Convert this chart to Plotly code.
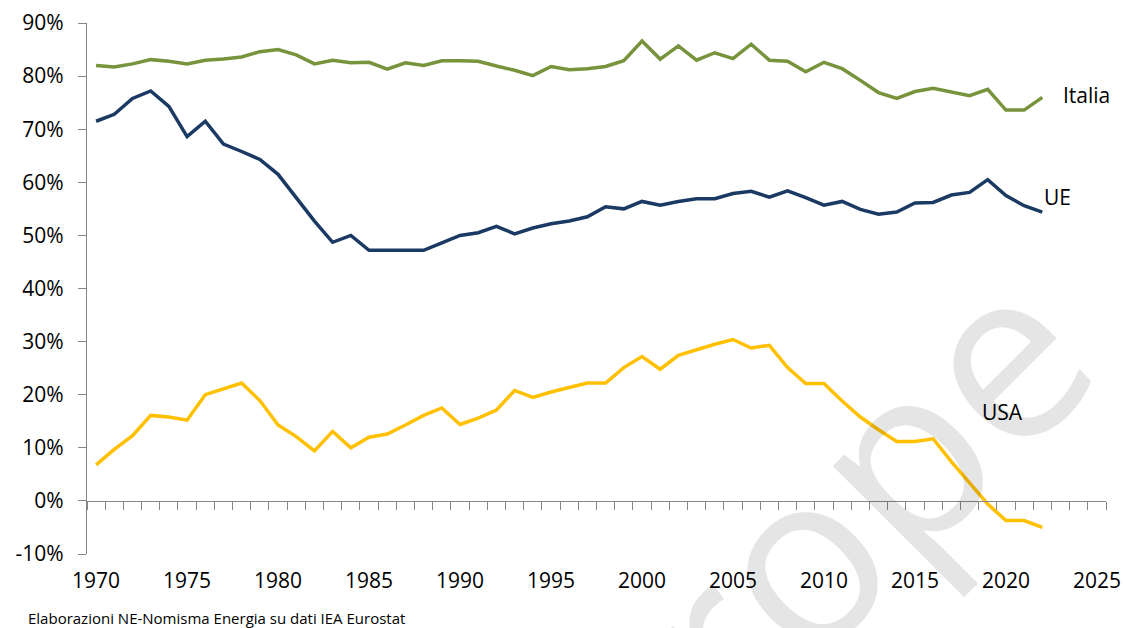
import plotly.graph_objects as go

years = list(range(1970, 2023))

italia = [82.0, 81.7, 82.3, 83.1, 82.8, 82.3, 83.0, 83.2, 83.6, 84.6,
          85.0, 84.0, 82.3, 83.0, 82.5, 82.6, 81.3, 82.5, 82.0, 82.9,
          82.9, 82.8, 81.9, 81.1, 80.1, 81.8, 81.2, 81.4, 81.8, 82.9,
          86.6, 83.2, 85.7, 83.0, 84.4, 83.3, 86.0, 83.0, 82.8, 80.8,
          82.6, 81.4, 79.2, 76.9, 75.8, 77.1, 77.7, 77.0, 76.3, 77.5,
          73.6, 73.6, 76.0]

ue = [71.5, 72.8, 75.8, 77.2, 74.3, 68.6, 71.5, 67.2, 65.8, 64.3,
      61.5, 57.1, 52.7, 48.7, 50.0, 47.2, 47.2, 47.2, 47.2, 48.6,
      50.0, 50.5, 51.7, 50.3, 51.4, 52.2, 52.7, 53.5, 55.4, 55.0,
      56.4, 55.7, 56.4, 56.9, 56.9, 57.9, 58.3, 57.2, 58.4, 57.1,
      55.7, 56.4, 54.9, 54.0, 54.4, 56.1, 56.2, 57.6, 58.1, 60.5,
      57.5, 55.6, 54.4]

usa = [6.8, 9.7, 12.3, 16.1, 15.8, 15.2, 20.0, 21.1, 22.2, 18.9,
       14.3, 12.1, 9.4, 13.1, 10.0, 12.0, 12.6, 14.3, 16.1, 17.5,
       14.4, 15.6, 17.1, 20.8, 19.5, 20.5, 21.3, 22.2, 22.2, 25.1,
       27.2, 24.8, 27.4, 28.5, 29.5, 30.4, 28.8, 29.3, 25.1, 22.1,
       22.1, 18.8, 15.8, 13.4, 11.2, 11.2, 11.7, 7.4, 3.3, -0.6,
       -3.7, -3.7, -5.0]

x_ticks = list(range(1970, 2026, 5))
y_ticks = list(range(-10, 91, 10))
y_labels = [f"{v}%" for v in y_ticks]

FONT = "Open Sans"
AXIS_GREY = "#868686"

fig = go.Figure()
fig.add_trace(go.Scatter(x=years, y=italia, mode="lines", name="Italia",
                         line=dict(color="#77933C", width=3.5)))
fig.add_trace(go.Scatter(x=years, y=ue, mode="lines", name="UE",
                         line=dict(color="#1B3A63", width=3.5)))
fig.add_trace(go.Scatter(x=years, y=usa, mode="lines", name="USA", xaxis="x2",
                         line=dict(color="#FFC000", width=3.5)))

xr = [1969.5, 2025.5]
fig.update_layout(
    width=1124, height=628,
    margin=dict(l=87, r=18, t=23, b=74),
    paper_bgcolor="white", plot_bgcolor="white",
    showlegend=False,
    font=dict(family=FONT, size=21, color="#000000"),
    xaxis=dict(range=xr, tickvals=x_ticks, ticktext=[str(v) for v in x_ticks],
               showline=False, showgrid=False, zeroline=False, ticks="",
               ticklabelstandoff=12, automargin=False,
               tickfont=dict(family=FONT, size=21, color="#000000")),
    xaxis2=dict(range=xr, overlaying="x", anchor="free", position=0.1, side="bottom",
                showline=True, linecolor=AXIS_GREY, linewidth=1.3,
                showgrid=False, zeroline=False, showticklabels=False,
                ticks="outside", tick0=1969.5, dtick=1, ticklen=8,
                tickcolor=AXIS_GREY, tickwidth=1.3, automargin=False),
    yaxis=dict(range=[-10, 90], tickvals=y_ticks, ticktext=y_labels,
               showline=True, linecolor=AXIS_GREY, linewidth=1.3,
               showgrid=False, zeroline=False,
               ticks="outside", ticklen=8, tickcolor=AXIS_GREY, tickwidth=1.3,
               ticklabelstandoff=10, automargin=False,
               tickfont=dict(family=FONT, size=21, color="#000000")),
)

# series labels
fig.add_annotation(x=2023.0, y=76.5, text="Italia", showarrow=False, xanchor="left",
                   yanchor="middle", font=dict(family=FONT, size=21, color="#000000"))
fig.add_annotation(x=2022.0, y=57.2, text="UE", showarrow=False, xanchor="left",
                   yanchor="middle", font=dict(family=FONT, size=21, color="#000000"))
fig.add_annotation(x=2018.6, y=16.8, text="USA", showarrow=False, xanchor="left",
                   yanchor="middle", font=dict(family=FONT, size=21, color="#000000"))

# watermark
fig.add_annotation(xref="paper", yref="paper", x=0.658, y=-0.068, text="Europe",
                   showarrow=False, textangle=-45, xanchor="center", yanchor="middle",
                   font=dict(family=FONT, size=240, color="rgba(0,0,0,0.1)"))

# source
fig.add_annotation(xref="paper", yref="paper", x=-0.06, y=-0.12,
                   text="Elaborazioni NE-Nomisma Energia su dati IEA Eurostat",
                   showarrow=False, xanchor="left", yanchor="middle",
                   font=dict(family=FONT, size=15, color="#000000"))

fig.write_html("out.html", config={"displayModeBar": False},
               post_script="document.body.style.margin='0';document.body.style.padding='0';")
